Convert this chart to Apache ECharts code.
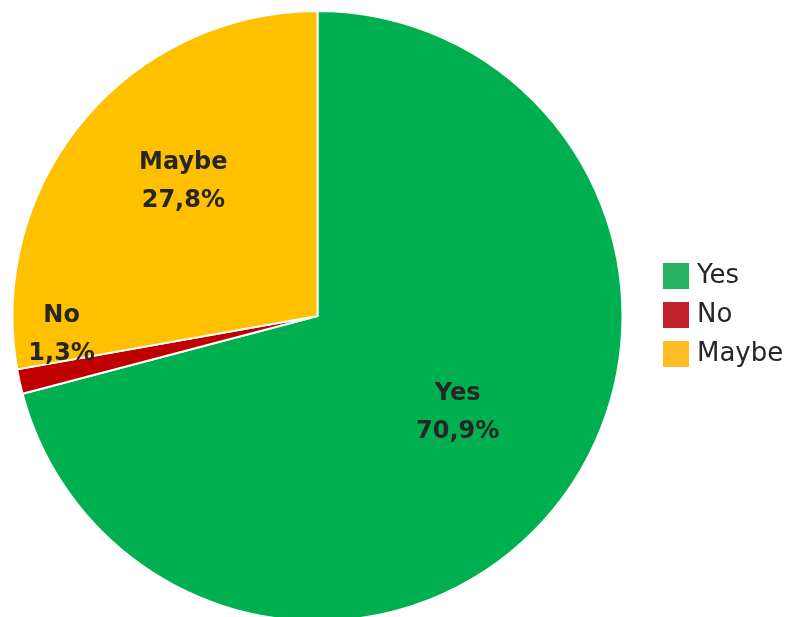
<!DOCTYPE html>
<html>
<head>
<meta charset="utf-8">
<script src="https://cdn.jsdelivr.net/npm/echarts@6/dist/echarts.min.js"></script>
<style>html,body{margin:0;padding:0;background:#fff;}#c{width:800px;height:617px;}</style>
</head>
<body>
<div id="c"></div>
<script>
var categories = ['Yes', 'No', 'Maybe'];
var values = [70.9, 1.3, 27.8];
var sliceColors = ['#00B050', '#C00000', '#FFC000'];
var legendColors = ['#27B35F', '#C0212A', '#FEBD27'];
var labelOffsets = [[17, 2], [-104, -15], [-15, -34]];

var chart = echarts.init(document.getElementById('c'), null, {renderer: 'canvas'});
var FONT = '"DejaVu Sans", sans-serif';
chart.setOption({
  animation: false,
  legend: {
    orient: 'vertical',
    left: 656,
    top: 256,
    itemWidth: 28,
    itemHeight: 28,
    itemGap: 9,
    icon: 'rect',
    textStyle: {fontSize: 26, lineHeight: 28, color: '#262626', fontFamily: FONT, padding: [0,0,0,2]},
    data: categories.map(function (c, i) { return {name: c, itemStyle: {color: legendColors[i]}}; })
  },
  series: [{
    type: 'pie',
    center: [317.5, 316],
    radius: 305,
    startAngle: 90,
    clockwise: true,
    itemStyle: {borderColor: '#fff', borderWidth: 2},
    label: {
      show: true,
      position: 'inside',
      formatter: function (p) { return p.name + '\n' + String(p.value.toFixed(1)).replace('.', ',') + '%'; },
      fontSize: 24,
      fontWeight: 'bold',
      lineHeight: 38,
      color: '#262626',
      fontFamily: FONT
    },
    labelLayout: function (params) {
      var o = labelOffsets[params.dataIndex];
      return {dx: o[0], dy: o[1]};
    },
    data: categories.map(function (c, i) { return {name: c, value: values[i], itemStyle: {color: sliceColors[i]}}; })
  }]
});
</script>
</body>
</html>
